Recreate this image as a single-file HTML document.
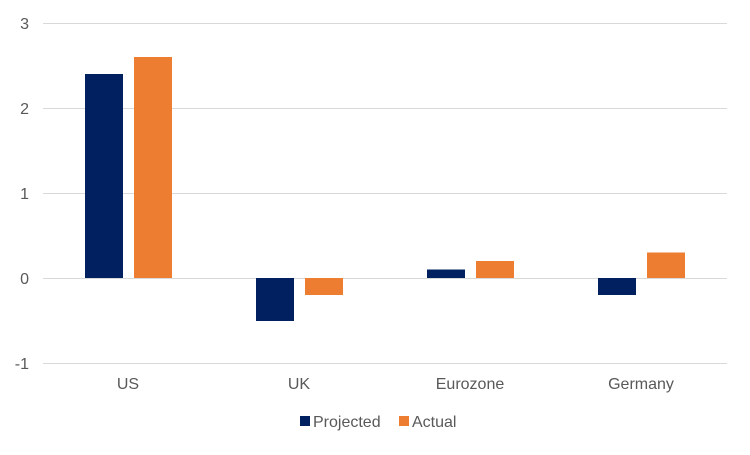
<!DOCTYPE html>
<html><head><meta charset="utf-8"><style>
body{margin:0;background:#fff;}
svg text{font-family:"Liberation Sans",Arial,sans-serif;fill:#595959;font-size:16px;}
</style></head><body>
<svg width="750" height="450" xmlns="http://www.w3.org/2000/svg">
<g stroke="#d9d9d9" stroke-width="1">
<line x1="43" x2="727" y1="23.5" y2="23.5"/>
<line x1="43" x2="727" y1="108.5" y2="108.5"/>
<line x1="43" x2="727" y1="193.5" y2="193.5"/>
<line x1="43" x2="727" y1="278.5" y2="278.5"/>
<line x1="43" x2="727" y1="363.5" y2="363.5"/>
</g>
<g text-anchor="end">
<text x="29" y="29">3</text>
<text x="29" y="114">2</text>
<text x="29" y="199">1</text>
<text x="29" y="284">0</text>
<text x="29" y="369">-1</text>
</g>
<g fill="#002060">
<rect x="85" y="74" width="38" height="204"/>
<rect x="256" y="278" width="38" height="43"/>
<rect x="427" y="269.5" width="38" height="8.5"/>
<rect x="598" y="278" width="38" height="17"/>
</g>
<g fill="#ED7D31">
<rect x="134" y="57" width="38" height="221"/>
<rect x="305" y="278" width="38" height="17"/>
<rect x="476" y="261" width="38" height="17"/>
<rect x="647" y="252.5" width="38" height="25.5"/>
</g>
<g text-anchor="middle">
<text x="128" y="389">US</text>
<text x="299" y="389">UK</text>
<text x="470" y="389">Eurozone</text>
<text x="641" y="389">Germany</text>
</g>
<rect x="300" y="416" width="10" height="10" fill="#002060"/>
<text x="313" y="427">Projected</text>
<rect x="399" y="416" width="10" height="10" fill="#ED7D31"/>
<text x="412" y="427">Actual</text>
</svg>
</body></html>
